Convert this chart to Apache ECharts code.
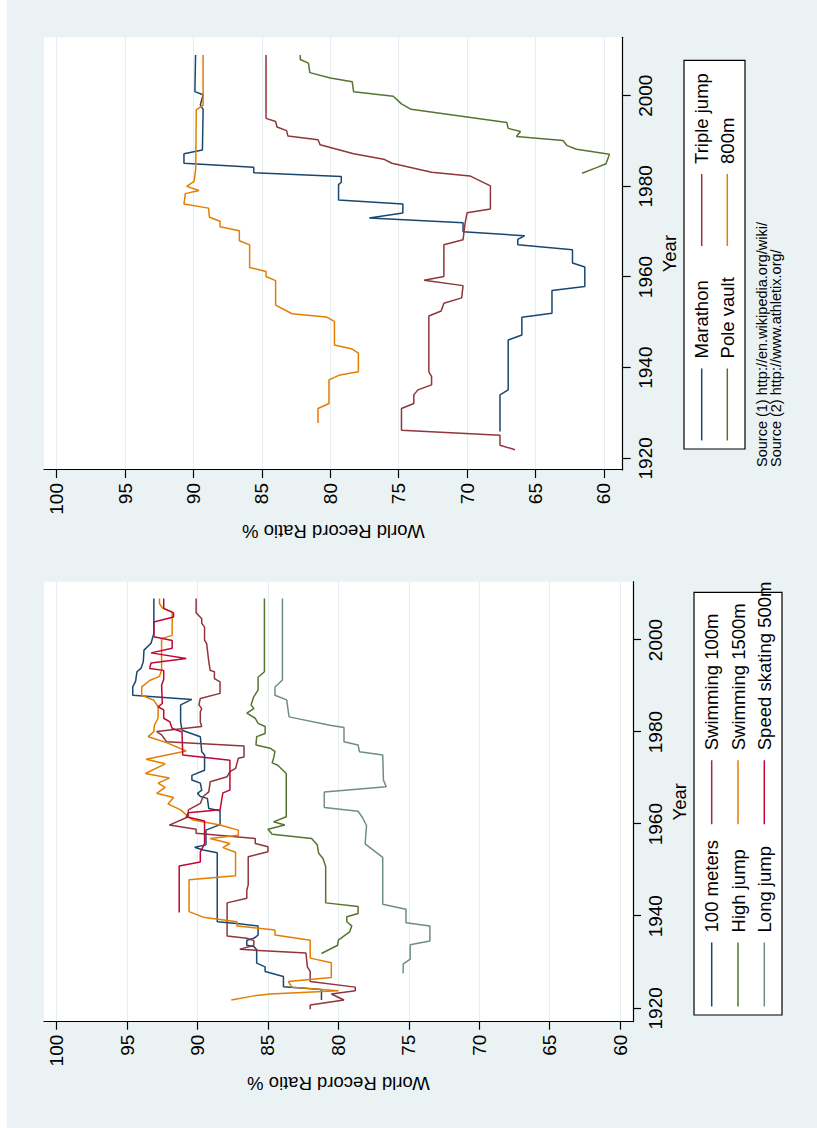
<!DOCTYPE html>
<html>
<head>
<meta charset="utf-8">
<script src="https://cdn.jsdelivr.net/npm/echarts@6/dist/echarts.min.js"></script>
<style>
html, body { margin:0; padding:0; width:817px; height:1128px; overflow:hidden; background:#ffffff; }
#wrap { position:absolute; left:0; top:0; width:1128px; height:817px; transform-origin:0 0; transform: translate(0px, 1128px) rotate(-90deg); }
#bg { position:absolute; left:0; top:7px; width:1128px; height:810px; background:#EAF2F3; }
#chart { position:absolute; left:0; top:0; width:1128px; height:817px; }
</style>
</head>
<body>
<div id="wrap"><div id="bg"></div><div id="chart"></div></div>
<script>
// ---- tick labels ----
const yearTicks = [1920, 1940, 1960, 1980, 2000];
const ratioTicks = [60, 65, 70, 75, 80, 85, 90, 95, 100];

// ---- left panel (year, ratio %) ----
const meters100 = [[1921.8,81.2],[1924.1,81.2],[1924.7,83.9],[1926.9,83.9],[1928.0,85.2],[1929.0,85.2],[1929.8,85.8],[1932.7,85.8],[1933.4,86.0],[1933.7,86.5],[1934.8,86.5],[1935.2,86.0],[1935.9,85.7],[1937.9,85.7],[1938.4,87.2],[1938.8,88.6],[1953.8,88.6],[1954.4,89.6],[1955.0,90.2],[1955.5,89.4],[1958.7,89.4],[1959.9,88.4],[1962.9,88.4],[1963.4,89.2],[1965.6,89.3],[1966.0,89.8],[1966.7,90.0],[1967.4,89.7],[1968.9,89.8],[1969.6,90.4],[1970.6,90.4],[1971.7,89.5],[1975.0,89.5],[1975.7,89.7],[1979.0,89.8],[1980.4,91.1],[1982.2,91.2],[1985.9,91.2],[1987.1,90.4],[1988.0,94.6],[1989.8,94.6],[1991.0,94.4],[1993.1,94.3],[1993.9,94.0],[1995.3,93.85],[1997.8,93.8],[1999.3,93.3],[2001.4,93.1],[2009.0,93.1]];
const swimming100 = [[1919.8,82.0],[1920.7,82.0],[1921.8,79.6],[1923.1,80.5],[1923.8,78.8],[1924.6,78.8],[1925.8,82.0],[1928.0,82.0],[1929.0,82.2],[1932.0,82.3],[1932.8,87.0],[1933.7,86.0],[1934.7,86.0],[1935.2,86.5],[1935.7,87.9],[1942.9,87.9],[1943.9,86.5],[1945.7,86.5],[1946.8,86.4],[1952.9,86.4],[1954.0,85.0],[1955.1,85.0],[1955.8,85.9],[1956.9,85.9],[1958.0,90.1],[1958.9,90.1],[1959.8,92.0],[1961.6,90.65],[1963.1,90.65],[1964.5,89.8],[1966.0,89.6],[1967.0,89.2],[1969.2,89.1],[1970.3,87.9],[1971.4,87.7],[1972.1,87.3],[1974.3,87.1],[1974.6,86.7],[1977.0,86.7],[1977.9,92.2],[1979.4,92.55],[1980.1,92.9],[1981.2,89.7],[1982.2,89.8],[1984.4,89.8],[1985.1,89.7],[1985.9,89.9],[1987.3,89.8],[1988.4,88.4],[1990.9,88.4],[1991.6,88.8],[1993.1,88.8],[1993.4,89.1],[1995.3,89.2],[1999.2,89.35],[1999.9,89.5],[2002.8,89.5],[2003.6,89.7],[2004.6,89.7],[2005.9,90.1],[2009.0,90.1]];
const highJump = [[1931.9,81.2],[1933.7,80.05],[1934.8,80.0],[1936.6,79.2],[1937.9,79.05],[1938.8,79.4],[1939.9,79.4],[1940.6,78.6],[1942.1,78.6],[1942.9,80.9],[1950.8,80.9],[1952.6,81.1],[1953.7,81.4],[1955.5,81.5],[1956.9,81.9],[1957.8,84.7],[1958.9,85.0],[1959.8,83.8],[1960.5,84.6],[1961.6,83.7],[1971.0,83.7],[1972.8,84.3],[1973.3,84.7],[1974.3,84.6],[1975.8,84.5],[1976.5,84.85],[1977.2,85.85],[1979.0,85.8],[1979.7,85.2],[1981.2,85.2],[1981.9,85.7],[1983.0,85.9],[1984.1,86.5],[1985.1,86.0],[1985.9,86.2],[1987.7,86.0],[1989.1,85.7],[1991.9,85.7],[1993.1,85.25],[2009.0,85.25]];
const swimming1500 = [[1921.8,87.6],[1922.7,86.0],[1923.1,84.85],[1923.8,80.0],[1924.6,83.3],[1925.8,83.55],[1926.7,80.5],[1929.9,80.5],[1930.9,82.0],[1934.8,82.0],[1935.9,84.5],[1937.0,84.5],[1937.6,86.3],[1937.9,87.2],[1938.8,87.2],[1939.8,89.6],[1941.0,90.6],[1947.9,90.6],[1948.8,87.3],[1953.9,87.3],[1954.9,88.2],[1955.8,87.7],[1956.9,89.1],[1957.6,87.1],[1958.7,87.1],[1959.8,88.4],[1960.9,90.3],[1961.6,90.65],[1963.1,91.2],[1964.4,92.1],[1965.8,91.7],[1966.7,92.9],[1968.0,92.3],[1968.9,92.8],[1970.0,92.0],[1971.0,93.7],[1973.1,92.3],[1974.1,93.65],[1975.9,90.8],[1977.7,92.2],[1979.0,93.5],[1980.1,93.1],[1981.5,93.06],[1983.0,92.8],[1985.5,92.8],[1986.9,93.1],[1988.0,93.96],[1989.8,93.96],[1991.2,93.4],[1992.1,92.7],[1993.4,92.55],[2000.3,92.55],[2001.0,91.8],[2006.1,91.8],[2007.0,92.5],[2007.9,92.7],[2009.0,92.7]];
const longJump = [[1927.6,75.4],[1929.6,75.4],[1930.7,74.9],[1933.8,74.9],[1934.6,73.5],[1937.9,73.5],[1938.6,75.2],[1941.5,75.2],[1942.6,76.85],[1952.8,76.85],[1955.7,78.1],[1959.7,78.0],[1961.5,78.3],[1962.8,78.6],[1963.6,81.0],[1967.0,81.0],[1968.1,76.6],[1969.6,76.8],[1975.0,76.85],[1975.7,78.5],[1977.2,78.6],[1977.9,79.6],[1981.0,79.6],[1981.5,80.6],[1983.3,83.5],[1987.0,83.67],[1988.0,84.5],[1989.8,84.5],[1991.3,83.97],[2009.0,83.97]];
const speedSkating500 = [[1940.8,91.3],[1950.9,91.3],[1951.8,89.8],[1954.0,89.8],[1955.1,89.6],[1955.8,89.5],[1960.7,89.5],[1961.6,90.8],[1962.5,90.65],[1963.1,88.4],[1966.8,88.2],[1967.4,87.7],[1973.9,87.7],[1975.0,91.05],[1980.0,91.1],[1980.8,91.8],[1982.2,91.96],[1983.0,92.4],[1984.8,92.4],[1985.5,92.8],[1986.2,92.5],[1990.2,92.55],[1991.4,92.4],[1993.4,92.4],[1993.8,93.4],[1995.0,93.3],[1996.0,90.8],[1997.2,93.3],[1998.2,91.8],[1999.9,91.8],[2000.7,93.1],[2003.9,93.1],[2005.0,91.7],[2005.9,91.7],[2006.8,92.4],[2009.0,92.4]];

// ---- right panel (year, ratio %) ----
const marathon = [[1925.9,67.6],[1934.0,67.6],[1935.1,67.0],[1946.1,67.0],[1947.2,66.0],[1951.1,66.0],[1952.0,63.8],[1957.0,63.8],[1957.9,61.4],[1962.2,61.4],[1963.1,62.3],[1966.0,62.3],[1967.1,66.3],[1968.3,66.3],[1969.1,65.8],[1970.0,70.3],[1972.0,70.3],[1973.0,77.15],[1974.1,74.7],[1976.1,74.7],[1977.0,79.4],[1980.4,79.4],[1980.9,79.2],[1982.2,79.2],[1983.0,85.6],[1984.2,85.6],[1985.1,90.7],[1987.2,90.7],[1988.0,89.35],[1997.0,89.3],[1998.0,89.5],[2000.2,89.3],[2000.9,89.9],[2009.0,89.85]];
const tripleJump = [[1921.9,66.5],[1922.9,67.6],[1925.1,67.6],[1926.2,74.8],[1931.0,74.8],[1932.1,73.9],[1934.0,73.9],[1935.1,73.6],[1936.2,72.6],[1938.0,72.6],[1939.1,72.8],[1951.4,72.8],[1952.5,71.9],[1954.2,71.7],[1955.4,70.4],[1958.1,70.3],[1959.3,73.15],[1960.1,71.7],[1967.1,71.7],[1968.2,70.3],[1971.9,70.15],[1974.2,70.0],[1975.0,68.3],[1980.1,68.3],[1982.3,69.8],[1983.1,72.6],[1985.1,75.5],[1986.0,76.1],[1987.2,78.3],[1989.2,80.75],[1990.3,80.9],[1991.1,83.1],[1992.3,83.2],[1993.1,83.9],[1994.3,84.0],[1995.0,84.7],[2009.0,84.7]];
const poleVault = [[1982.9,61.6],[1984.2,60.5],[1985.0,59.85],[1987.1,59.6],[1988.2,62.0],[1989.0,62.7],[1990.1,63.0],[1991.0,66.4],[1992.1,66.1],[1992.8,67.0],[1994.1,67.1],[1997.0,74.1],[1998.2,74.8],[1999.9,75.4],[2000.9,78.3],[2003.1,78.4],[2003.9,80.0],[2005.1,81.5],[2007.2,81.6],[2008.0,82.2],[2009.0,82.2]];
const m800 = [[1927.8,80.9],[1931.0,80.9],[1932.1,80.1],[1937.3,80.1],[1938.4,79.3],[1939.1,77.95],[1943.2,77.95],[1944.1,78.4],[1945.0,79.7],[1950.2,79.7],[1951.2,80.3],[1951.9,82.8],[1953.8,84.0],[1959.2,84.0],[1960.1,84.7],[1961.2,84.7],[1962.1,85.9],[1967.1,85.9],[1968.0,86.65],[1970.2,86.65],[1971.1,88.06],[1972.3,88.06],[1973.2,88.84],[1975.2,88.9],[1976.1,90.7],[1978.4,90.6],[1979.1,89.6],[1980.0,90.5],[1981.1,89.96],[1983.8,89.84],[1996.9,89.8],[1997.9,89.3],[2009.0,89.3]];

const FONT = "'Liberation Sans', Arial, Helvetica, sans-serif";
const C = { navy:'#1A476F', maroon:'#90353B', green:'#55752F', orange:'#E37E00', teal:'#6E8E84', cranberry:'#C10534' };

function lineSeries(name, data, color, idx) {
  return { name, type:'line', data, xAxisIndex:idx, yAxisIndex:idx, symbol:'none', showSymbol:false,
           lineStyle:{ color, width:1.5 }, itemStyle:{ color }, animation:false, z:2 };
}
function xAxisCfg(gi, min, max) {
  return { type:'value', gridIndex:gi, min, max, position:'bottom',
    name:'Year', nameLocation:'middle', nameGap:27,
    nameTextStyle:{ fontSize:18.5, color:'#000', fontFamily:FONT },
    axisLine:{ show:true, onZero:false, lineStyle:{ color:'#000', width:1.2 } },
    axisTick:{ show:true, length:8, inside:false, customValues:yearTicks, lineStyle:{ color:'#000', width:1.2 } },
    axisLabel:{ show:true, customValues:yearTicks, fontSize:19, color:'#000', margin:13, fontFamily:FONT,
                formatter:(v) => String(Math.round(v)) },
    splitLine:{ show:false } };
}
function yAxisCfg(gi, min, max) {
  return { type:'value', gridIndex:gi, min, max, position:'left',
    name:'World Record Ratio %', nameLocation:'middle', nameGap:52, nameRotate:90,
    nameTextStyle:{ fontSize:18.5, color:'#000', fontFamily:FONT },
    axisLine:{ show:true, onZero:false, lineStyle:{ color:'#000', width:1.2 } },
    axisTick:{ show:true, length:8, customValues:ratioTicks, lineStyle:{ color:'#000', width:1.2 } },
    axisLabel:{ show:true, customValues:ratioTicks, fontSize:19, color:'#000', margin:13, fontFamily:FONT,
                formatter:(v) => String(Math.round(v)) },
    splitLine:{ show:true, lineStyle:{ color:'#E6EEF0', width:1.2 } } };
}
function legendCfg(names, left, top, itemWidth, gap, boxed, textWidth, padR) {
  const cfg = { data:names, orient:'vertical', left, top, itemWidth, itemHeight:20, itemGap:gap,
    selectedMode:false, z:boxed ? 5 : 6,
    itemStyle:{ opacity:0, borderWidth:0 },
    lineStyle:{ width:1.5 },
    textStyle:{ fontSize:18.5, color:'#000', fontFamily:FONT, lineHeight:20, padding:[0,0,0,5] } };
  if (boxed) {
    cfg.backgroundColor = '#fff'; cfg.borderColor = '#000'; cfg.borderWidth = 1.2;
    cfg.padding = [7.7, padR, 7.7, 7.8];
    cfg.textStyle.width = textWidth; cfg.textStyle.overflow = 'none';
  } else {
    cfg.padding = [7.7, 0, 7.7, 0];
  }
  return cfg;
}

const chart = echarts.init(document.getElementById('chart'), null, { renderer:'svg', width:1128, height:817 });
chart.setOption({
  backgroundColor:'transparent',
  animation:false,
  textStyle:{ fontFamily:FONT },
  title:{ text:'Source (1) http://en.wikipedia.org/wiki/\nSource (2) http://www.athletix.org/',
    left:661, top:755, padding:0,
    textStyle:{ fontSize:14.5, fontWeight:'normal', color:'#000', lineHeight:14, fontFamily:FONT } },
  grid:[
    { left:106.3, top:44, width:440, height:589, show:true, backgroundColor:'#fff', borderWidth:0, containLabel:false },
    { left:658, top:44, width:432.7, height:578.7, show:true, backgroundColor:'#fff', borderWidth:0, containLabel:false }
  ],
  xAxis:[ xAxisCfg(0, 1917.09, 2012.66), xAxisCfg(1, 1917.42, 2012.89) ],
  yAxis:[ yAxisCfg(0, 59.08, 100.9), yAxisCfg(1, 58.63, 100.93) ],
  legend:[
    legendCfg(['100 meters','High jump','Long jump'], 113, 694, 64, 6.3, true, 332, 8),
    legendCfg(['Swimming 100m','Swimming 1500m','Speed skating 500m'], 303, 694, 64, 6.3, false),
    legendCfg(['Marathon','Pole vault'], 679, 684, 72, 5.6, true, 290, 8),
    legendCfg(['Triple jump','800m'], 881.3, 684, 72, 5.6, false)
  ],
  series:[
    lineSeries('100 meters', meters100, C.navy, 0),
    lineSeries('Swimming 100m', swimming100, C.maroon, 0),
    lineSeries('High jump', highJump, C.green, 0),
    lineSeries('Swimming 1500m', swimming1500, C.orange, 0),
    lineSeries('Long jump', longJump, C.teal, 0),
    lineSeries('Speed skating 500m', speedSkating500, C.cranberry, 0),
    lineSeries('Marathon', marathon, C.navy, 1),
    lineSeries('Triple jump', tripleJump, C.maroon, 1),
    lineSeries('Pole vault', poleVault, C.green, 1),
    lineSeries('800m', m800, C.orange, 1)
  ]
});
</script>
</body>
</html>
